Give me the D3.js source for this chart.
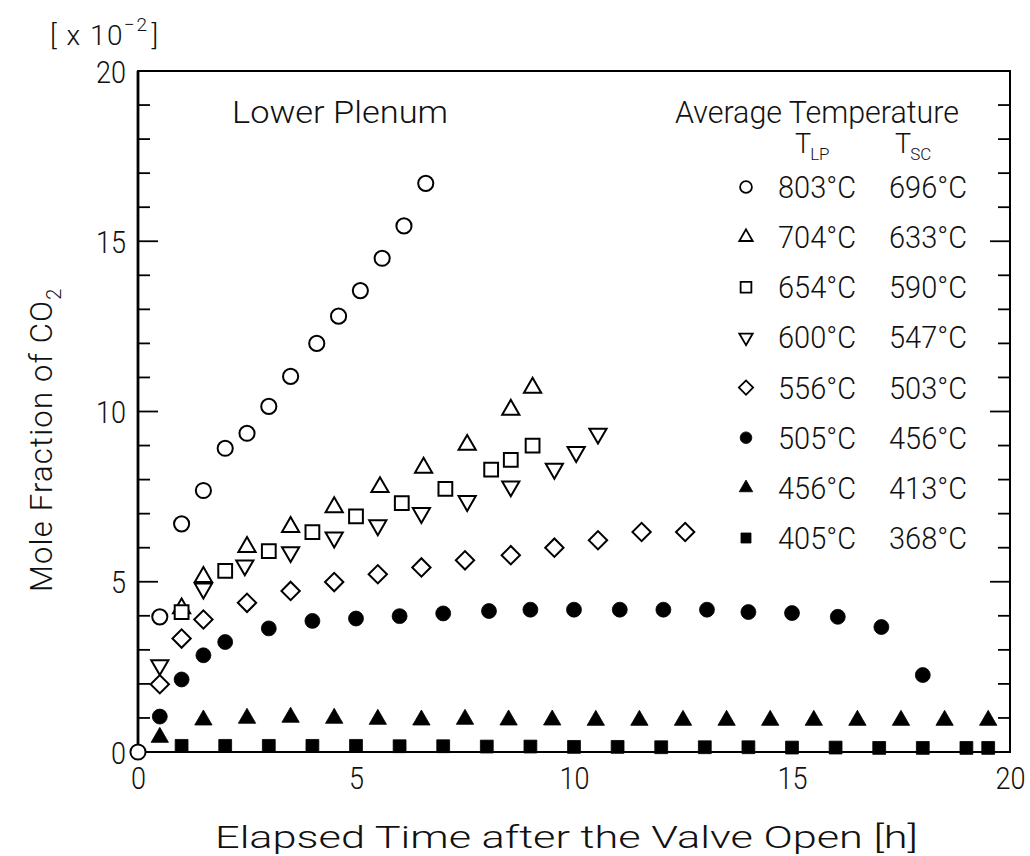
<!DOCTYPE html>
<html><head><meta charset="utf-8">
<script src="https://cdn.jsdelivr.net/npm/d3@7"></script>
<style>body{margin:0;background:#fff}</style>
</head><body>
<svg id="chart" width="1030" height="856"></svg>
<script>
// ---------- data ----------
const xTickValues = [0, 5, 10, 15, 20];
const yTickValues = [0, 5, 10, 15, 20];
const tempLP = ["803°C", "704°C", "654°C", "600°C", "556°C", "505°C", "456°C", "405°C"];
const tempSC = ["696°C", "633°C", "590°C", "547°C", "503°C", "456°C", "413°C", "368°C"];
const symbolKinds = ["circle", "triUp", "square", "triDown", "diamond", "dot", "triFill", "sqFill"];

const t803 = [0, 0.5, 1.0, 1.5, 2.0, 2.5, 3.0, 3.5, 4.1, 4.6, 5.1, 5.6, 6.1, 6.6];
const c803 = [0, 3.97, 6.7, 7.68, 8.92, 9.36, 10.15, 11.03, 12.0, 12.8, 13.55, 14.5, 15.45, 16.7];

const t704 = [1.0, 1.5, 2.5, 3.5, 4.5, 5.55, 6.55, 7.55, 8.55, 9.05];
const c704 = [4.22, 5.14, 6.02, 6.61, 7.19, 7.78, 8.35, 9.02, 10.05, 10.7];

const t654 = [1.0, 2.0, 3.0, 4.0, 5.0, 6.05, 7.05, 8.1, 8.55, 9.05];
const c654 = [4.11, 5.32, 5.9, 6.46, 6.92, 7.31, 7.73, 8.29, 8.58, 9.0];

const t600 = [0.5, 1.5, 2.45, 3.5, 4.5, 5.5, 6.5, 7.55, 8.55, 9.55, 10.05, 10.55];
const c600 = [2.55, 4.8, 5.48, 5.87, 6.3, 6.66, 7.02, 7.37, 7.8, 8.32, 8.81, 9.35];

const t556 = [0.5, 1.0, 1.5, 2.5, 3.5, 4.5, 5.5, 6.5, 7.5, 8.55, 9.55, 10.55, 11.55, 12.55];
const c556 = [1.99, 3.33, 3.89, 4.38, 4.73, 4.99, 5.22, 5.42, 5.63, 5.78, 6.0, 6.22, 6.46, 6.46];

const t505 = [0.5, 1.0, 1.5, 2.0, 3.0, 4.0, 5.0, 6.0, 7.0, 8.05, 9.0, 10.0, 11.05, 12.05, 13.05, 14.0, 15.0, 16.05, 17.05, 18.0];
const c505 = [1.04, 2.13, 2.84, 3.23, 3.63, 3.85, 3.92, 3.99, 4.07, 4.14, 4.18, 4.18, 4.18, 4.18, 4.18, 4.11, 4.08, 3.97, 3.67, 2.26];

const t456 = [0.5, 1.5, 2.5, 3.5, 4.5, 5.5, 6.5, 7.5, 8.5, 9.5, 10.5, 11.5, 12.5, 13.5, 14.5, 15.5, 16.5, 17.5, 18.5, 19.5];
const c456 = [0.43, 0.94, 0.99, 1.02, 0.99, 0.96, 0.94, 0.96, 0.94, 0.94, 0.93, 0.93, 0.93, 0.93, 0.93, 0.93, 0.93, 0.93, 0.93, 0.93];

const t405 = [1, 2, 3, 4, 5, 6, 7, 8, 9, 10, 11, 12, 13, 14, 15, 16, 17, 18, 19, 19.5];
const c405 = [0.18, 0.18, 0.18, 0.18, 0.18, 0.17, 0.17, 0.16, 0.16, 0.15, 0.15, 0.14, 0.14, 0.14, 0.13, 0.13, 0.12, 0.12, 0.12, 0.12];

const seriesT = [t803, t704, t654, t600, t556, t505, t456, t405];
const seriesC = [c803, c704, c654, c600, c556, c505, c456, c405];

// ---------- layout ----------
const FONT = "Roboto,'Liberation Sans Narrow','DejaVu Sans Condensed','Liberation Sans',sans-serif";
const WEIGHT = 300;
const L = 138, R = 1010, T = 71, B = 752;
const svg = d3.select("#chart");
const x = d3.scaleLinear().domain([0, 20]).range([L, R]);
const y = d3.scaleLinear().domain([0, 20]).range([B, T]);

// symbol generator
function symPath(kind, scale) {
  const s = scale || 1;
  const map = {
    circle: [d3.symbolCircle, 180], triUp: [d3.symbolTriangle, 128], square: [d3.symbolSquare, 190],
    triDown: [d3.symbolTriangle, 128], diamond: [d3.symbolSquare, 168], dot: [d3.symbolCircle, 175],
    triFill: [d3.symbolTriangle, 130], sqFill: [d3.symbolSquare, 165]
  };
  const m = map[kind];
  return d3.symbol().type(m[0]).size(m[1] * s * s)();
}
const filled = k => (k === "dot" || k === "triFill" || k === "sqFill");
const rot = k => (k === "triDown" ? 180 : k === "diamond" ? 45 : 0);

// frame
svg.append("rect").attr("x", L).attr("y", T).attr("width", R - L).attr("height", B - T)
  .attr("fill", "none").attr("stroke", "#000").attr("stroke-width", 2);
svg.append("line").attr("x1", L).attr("x2", L).attr("y1", T).attr("y2", B)
  .attr("stroke", "#000").attr("stroke-width", 2.8);

// inner ticks on left and right axes
const minor = d3.range(1, 20);
const tickG = svg.append("g").attr("stroke", "#000").attr("stroke-width", 1.8);
minor.forEach(v => {
  const len = v % 5 === 0 ? 20 : 12;
  tickG.append("line").attr("x1", L).attr("x2", L + len).attr("y1", y(v)).attr("y2", y(v));
  tickG.append("line").attr("x1", R).attr("x2", R - len).attr("y1", y(v)).attr("y2", y(v));
});

// axis tick labels via d3 axes (lines hidden)
const yAxis = svg.append("g").attr("transform", `translate(${L - 12},0)`)
  .call(d3.axisLeft(y).tickValues(yTickValues).tickSize(0).tickPadding(0));
const xAxis = svg.append("g").attr("transform", `translate(0,${B + 15})`)
  .call(d3.axisBottom(x).tickValues(xTickValues).tickSize(0).tickPadding(0));
[yAxis, xAxis].forEach(g => {
  g.select(".domain").remove();
  g.selectAll("text").attr("font-family", FONT).attr("font-weight", WEIGHT).attr("font-size", 31).attr("fill", "#111")
    .each(function () {
      const n = d3.select(this).text().length;
      d3.select(this).attr("textLength", 15 * n).attr("lengthAdjust", "spacingAndGlyphs");
    });
});
xAxis.selectAll("text").attr("dy", "0.71em");
yAxis.selectAll("text").attr("dy", "0.36em");

// data markers
const markG = svg.append("g");
seriesT.forEach((ts, i) => {
  const k = symbolKinds[i];
  ts.forEach((t, j) => {
    markG.append("path").attr("d", symPath(k))
      .attr("transform", `translate(${x(t)},${y(seriesC[i][j])}) rotate(${rot(k)})`)
      .attr("fill", filled(k) ? "#000" : "#fff")
      .attr("stroke", "#000").attr("stroke-width", filled(k) ? 0.8 : 2);
  });
});

// texts
function txt(str, px, py, size, len, anchor) {
  const t = svg.append("text").attr("x", px).attr("y", py).attr("font-family", FONT).attr("font-weight", WEIGHT)
    .attr("font-size", size).attr("fill", "#111").attr("text-anchor", anchor || "start").text(str);
  if (len) t.attr("textLength", len).attr("lengthAdjust", "spacingAndGlyphs");
  return t;
}
function base(px, py, size) {
  return svg.append("text").attr("x", px).attr("y", py).attr("font-family", FONT).attr("font-weight", WEIGHT)
    .attr("font-size", size).attr("fill", "#111");
}

// [x10^-2] as one text with tspans
const ex = base(50, 45, 28).attr("letter-spacing", 1.5);
ex.append("tspan").text("[ x 10");
ex.append("tspan").attr("dy", -14).attr("font-size", 19).text("−2");
ex.append("tspan").attr("dy", 14).attr("dx", 3).text("]");

txt("Lower  Plenum", 232, 123, 31, 216);
txt("Average  Temperature", 675, 123, 31, 284);

// T_LP, T_SC
[["LP", 795], ["SC", 895]].forEach(([sub, px]) => {
  const t = base(px, 153, 27);
  t.append("tspan").text("T");
  t.append("tspan").attr("dy", 7).attr("dx", -1).attr("font-size", 17).text(sub);
});

// legend rows
const rowY = d3.scaleLinear().domain([0, 7]).range([187, 538]);
tempLP.forEach((lab, i) => {
  const k = symbolKinds[i];
  svg.append("path").attr("d", symPath(k, 0.78))
    .attr("transform", `translate(746,${rowY(i)}) rotate(${rot(k)})`)
    .attr("fill", filled(k) ? "#000" : "#fff").attr("stroke", "#000").attr("stroke-width", filled(k) ? 0.8 : 1.8);
  txt(lab, 778, rowY(i) + 11, 31, 78);
  txt(tempSC[i], 889, rowY(i) + 11, 31, 78);
});

// axis titles
txt("Elapsed  Time after the  Valve  Open   [h]", 215, 848, 31, 703);
const yt = svg.append("g").attr("transform", "translate(52,592) rotate(-90)");
const ytt = yt.append("text").attr("x", 0).attr("y", 0).attr("font-family", FONT).attr("font-weight", WEIGHT)
  .attr("font-size", 31).attr("fill", "#111").attr("letter-spacing", 1.2);
ytt.append("tspan").text("Mole  Fraction  of  CO");
ytt.append("tspan").attr("dy", 9).attr("font-size", 20).text("2");
</script>
</body></html>
